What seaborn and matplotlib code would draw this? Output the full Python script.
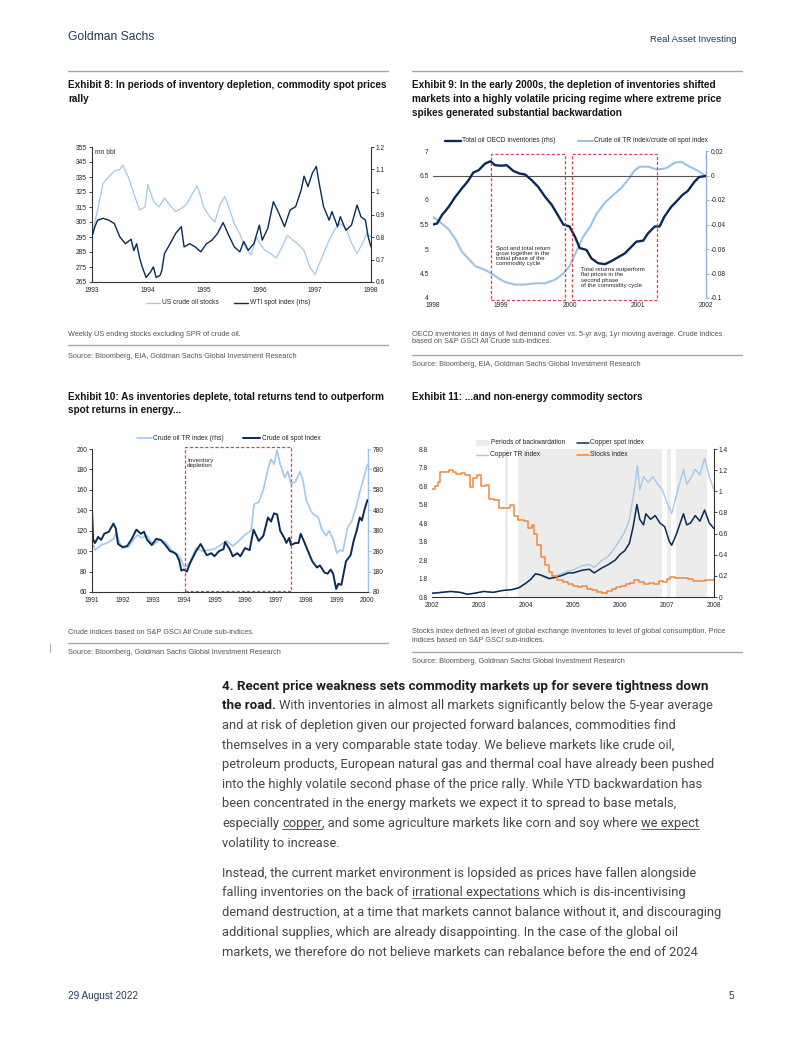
import matplotlib
matplotlib.use("Agg")
import matplotlib.pyplot as plt
import seaborn as sns
from matplotlib.lines import Line2D
from matplotlib.patches import Rectangle

sns.set_style("white")
NARROW = ['Liberation Sans Narrow', 'Liberation Sans', 'DejaVu Sans']
ARIAL = ['Liberation Sans', 'DejaVu Sans']
BODY = ['Roboto', 'DejaVu Sans']
plt.rcParams['font.family'] = ARIAL

NAVY = '#0b2a52'
LIGHT = '#a3c8ea'
ORANGE = '#f0883a'
RED = '#d9434a'
SHADE = '#ececec'
TXT = '#262626'

# ---- Exhibit 8 : US crude oil stocks (mn bbl) vs WTI spot index (rhs)
ex8_stock_yr = [1993.0, 1993.05, 1993.1, 1993.15, 1993.2, 1993.3, 1993.4, 1993.5, 1993.55, 1993.65,
                1993.75, 1993.85, 1993.95, 1994.0, 1994.1, 1994.2, 1994.3, 1994.4, 1994.5, 1994.6,
                1994.7, 1994.8, 1994.88, 1994.95, 1995.0, 1995.1, 1995.2, 1995.3, 1995.38, 1995.45,
                1995.55, 1995.65, 1995.75, 1995.85, 1995.95, 1996.0, 1996.1, 1996.2, 1996.3, 1996.4,
                1996.5, 1996.6, 1996.7, 1996.8, 1996.9, 1997.0, 1997.05, 1997.15, 1997.25, 1997.35,
                1997.45, 1997.55, 1997.65, 1997.75, 1997.85, 1997.92, 1998.0]
ex8_stocks = [295, 305, 313, 322, 331, 335, 339, 340, 343, 335,
              324, 313, 315, 330, 319, 315, 321, 316, 312, 314,
              317, 324, 329, 322, 315, 309, 305, 317, 322, 315,
              304, 297, 288, 283, 295, 291, 286, 284, 281, 288,
              296, 293, 290, 286, 275, 270, 275, 284, 293, 300,
              304, 301, 291, 284, 291, 297, 295]
ex8_wti_yr = [1993.0, 1993.05, 1993.1, 1993.2, 1993.3, 1993.4, 1993.5, 1993.6, 1993.7, 1993.75,
              1993.8, 1993.85, 1993.9, 1993.97, 1994.05, 1994.1, 1994.15, 1994.22, 1994.25, 1994.3,
              1994.4, 1994.5, 1994.6, 1994.65, 1994.75, 1994.85, 1994.95, 1995.05, 1995.15, 1995.25,
              1995.35, 1995.45, 1995.55, 1995.65, 1995.72, 1995.8, 1995.9, 1996.0, 1996.05, 1996.15,
              1996.25, 1996.35, 1996.45, 1996.55, 1996.65, 1996.75, 1996.8, 1996.87, 1996.95, 1997.02,
              1997.07, 1997.15, 1997.25, 1997.3, 1997.4, 1997.45, 1997.55, 1997.65, 1997.75, 1997.82,
              1997.9, 1997.95, 1998.0]
ex8_wti = [0.80, 0.845, 0.875, 0.883, 0.875, 0.86, 0.80, 0.77, 0.79, 0.74,
           0.77, 0.71, 0.667, 0.62, 0.645, 0.667, 0.62, 0.63, 0.65, 0.727,
           0.77, 0.816, 0.846, 0.756, 0.77, 0.756, 0.734, 0.77, 0.786, 0.816,
           0.864, 0.808, 0.756, 0.734, 0.78, 0.741, 0.77, 0.853, 0.786, 0.838,
           0.957, 0.905, 0.846, 0.92, 0.935, 1.01, 1.07, 1.024, 1.084, 1.114,
           1.04, 0.935, 0.875, 0.913, 0.846, 0.89, 0.83, 0.853, 0.942, 0.89,
           0.875, 0.80, 0.756]

# ---- Exhibit 9 : OECD inventories vs TR/spot ratio
ex9_inv_yr = [1998.0, 1998.06, 1998.13, 1998.23, 1998.33, 1998.42, 1998.52, 1998.59, 1998.67, 1998.76,
              1998.84, 1998.91, 1999.01, 1999.08, 1999.18, 1999.27, 1999.35, 1999.45, 1999.54, 1999.64,
              1999.74, 1999.83, 1999.91, 2000.0, 2000.08, 2000.15, 2000.25, 2000.32, 2000.42, 2000.52,
              2000.61, 2000.71, 2000.81, 2000.91, 2000.98, 2001.08, 2001.15, 2001.25, 2001.32, 2001.39,
              2001.49, 2001.56, 2001.66, 2001.73, 2001.83, 2001.90, 2002.0]
ex9_inv = [5.50, 5.52, 5.69, 5.86, 6.07, 6.23, 6.40, 6.56, 6.61, 6.74,
           6.79, 6.71, 6.70, 6.71, 6.59, 6.54, 6.52, 6.40, 6.27, 6.07,
           5.90, 5.69, 5.50, 5.46, 5.25, 5.02, 4.98, 4.81, 4.71, 4.69,
           4.75, 4.83, 4.91, 5.05, 5.15, 5.17, 5.32, 5.46, 5.46, 5.66,
           5.86, 5.96, 6.11, 6.18, 6.37, 6.47, 6.49]
ex9_ratio_yr = [1998.0, 1998.08, 1998.23, 1998.33, 1998.42, 1998.52, 1998.62, 1998.76, 1998.86, 1998.96,
                1999.06, 1999.20, 1999.35, 1999.49, 1999.64, 1999.79, 1999.91, 2000.0, 2000.10, 2000.20,
                2000.30, 2000.39, 2000.52, 2000.64, 2000.76, 2000.88, 2000.95, 2001.03, 2001.15, 2001.29,
                2001.42, 2001.54, 2001.64, 2001.73, 2001.85, 2002.0]
ex9_ratio = [-0.034, -0.037, -0.044, -0.052, -0.062, -0.068, -0.074, -0.077, -0.080, -0.084,
             -0.087, -0.089, -0.089, -0.088, -0.088, -0.085, -0.080, -0.074, -0.062, -0.050,
             -0.042, -0.032, -0.022, -0.016, -0.010, -0.002, 0.004, 0.0072, 0.0072, 0.0048,
             0.006, 0.0104, 0.0112, 0.008, 0.0048, -0.0004]
ex9_phase_start = [1998.85, 2000.03]
ex9_phase_end = [1999.93, 2001.28]

# ---- Exhibit 10 : crude oil spot index vs TR index (rhs)
ex10_spot_yr = [1991.0, 1991.04, 1991.1, 1991.2, 1991.3, 1991.4, 1991.55, 1991.7, 1991.78, 1991.85,
                1992.0, 1992.15, 1992.3, 1992.45, 1992.6, 1992.7, 1992.8, 1992.95, 1993.1, 1993.25,
                1993.4, 1993.55, 1993.65, 1993.75, 1993.85, 1993.92, 1994.0, 1994.1, 1994.2, 1994.4,
                1994.55, 1994.75, 1994.9, 1995.0, 1995.15, 1995.3, 1995.35, 1995.5, 1995.6, 1995.75,
                1995.85, 1996.0, 1996.15, 1996.28, 1996.45, 1996.6, 1996.75, 1996.85, 1996.95, 1997.05,
                1997.15, 1997.3, 1997.35, 1997.45, 1997.5, 1997.65, 1997.75, 1997.82, 1997.95, 1998.1,
                1998.2, 1998.35, 1998.45, 1998.6, 1998.7, 1998.8, 1998.88, 1998.98, 1999.05, 1999.15,
                1999.3, 1999.45, 1999.55, 1999.65, 1999.75, 1999.82, 1999.9, 2000.0]
ex10_spot = [140, 111, 108, 114, 111, 117, 119, 127, 122, 107,
             104, 105, 112, 121, 117, 119, 111, 106, 112, 111,
             106, 100, 99, 97, 91, 81, 82, 80, 88, 100,
             107, 96, 98, 95, 100, 102, 109, 102, 95, 98,
             95, 103, 101, 121, 110, 115, 133, 129, 137, 136,
             120, 112, 108, 113, 106, 108, 108, 117, 108, 97,
             90, 84, 86, 79, 78, 82, 78, 63, 68, 67,
             90, 96, 110, 120, 133, 130, 140, 150]
ex10_tr_yr = [1991.0, 1991.1, 1991.3, 1991.5, 1991.7, 1991.8, 1991.9, 1992.0, 1992.2, 1992.4,
              1992.5, 1992.6, 1992.8, 1993.0, 1993.2, 1993.4, 1993.6, 1993.8, 1993.9, 1994.0,
              1994.1, 1994.2, 1994.4, 1994.6, 1994.8, 1995.0, 1995.2, 1995.4, 1995.6, 1995.8,
              1996.0, 1996.2, 1996.3, 1996.45, 1996.6, 1996.75, 1996.85, 1996.95, 1997.05, 1997.15,
              1997.3, 1997.4, 1997.5, 1997.65, 1997.8, 1997.9, 1998.0, 1998.2, 1998.4, 1998.5,
              1998.65, 1998.75, 1998.9, 1999.0, 1999.1, 1999.2, 1999.35, 1999.5, 1999.65, 1999.75,
              1999.85, 2000.0]
ex10_tr = [335, 285, 310, 320, 340, 370, 320, 295, 300, 345,
           360, 345, 355, 310, 335, 325, 285, 265, 245, 205,
           205, 230, 295, 280, 285, 290, 310, 330, 305, 330,
           360, 380, 510, 520, 580, 680, 730, 705, 775, 705,
           640, 670, 610, 620, 670, 620, 530, 465, 445, 390,
           355, 380, 330, 270, 285, 280, 395, 430, 505, 570,
           620, 705]
ex10_depl = (1994.05, 1997.5)

# ---- Exhibit 11 : copper spot / TR index vs stocks index (rhs)
ex11_spot_yr = [2002.0, 2002.2, 2002.4, 2002.6, 2002.75, 2002.9, 2003.1, 2003.3, 2003.5, 2003.7,
                2003.85, 2004.0, 2004.1, 2004.2, 2004.3, 2004.4, 2004.5, 2004.6, 2004.75, 2004.9,
                2005.0, 2005.2, 2005.35, 2005.45, 2005.6, 2005.75, 2005.9, 2006.0, 2006.1, 2006.2,
                2006.28, 2006.36, 2006.42, 2006.5, 2006.55, 2006.65, 2006.75, 2006.85, 2006.95, 2007.05,
                2007.1, 2007.2, 2007.35, 2007.42, 2007.5, 2007.6, 2007.7, 2007.8, 2007.9, 2008.0]
ex11_spot = [1.0, 1.05, 1.1, 1.05, 0.95, 1.0, 1.1, 1.05, 1.15, 1.2,
             1.3, 1.55, 1.75, 2.05, 2.0, 1.9, 1.8, 1.85, 1.95, 2.1,
             2.1, 2.25, 2.3, 2.1, 2.35, 2.55, 2.8, 3.1, 3.3, 3.7,
             4.6, 5.8, 5.0, 4.7, 5.3, 5.0, 5.2, 4.8, 4.6, 3.8,
             3.6, 4.2, 5.3, 4.7, 4.8, 5.2, 4.9, 5.5, 4.8, 4.5]
ex11_tr_yr = [2002.0, 2002.2, 2002.4, 2002.6, 2002.75, 2002.9, 2003.1, 2003.3, 2003.5, 2003.7,
              2003.85, 2004.0, 2004.1, 2004.2, 2004.3, 2004.4, 2004.5, 2004.6, 2004.75, 2004.9,
              2005.0, 2005.2, 2005.35, 2005.45, 2005.6, 2005.75, 2005.9, 2006.0, 2006.1, 2006.2,
              2006.3, 2006.37, 2006.42, 2006.5, 2006.6, 2006.7, 2006.8, 2006.9, 2007.0, 2007.1,
              2007.2, 2007.35, 2007.42, 2007.5, 2007.6, 2007.7, 2007.8, 2007.9, 2008.0]
ex11_tr = [1.0, 1.05, 1.1, 1.05, 0.95, 1.0, 1.1, 1.05, 1.15, 1.2,
           1.3, 1.55, 1.75, 2.05, 2.0, 1.85, 1.75, 1.9, 2.05, 2.2,
           2.25, 2.5, 2.55, 2.4, 2.75, 3.0, 3.5, 3.9, 4.3, 5.0,
           6.5, 7.9, 6.6, 7.3, 7.0, 7.3, 6.9, 6.6, 5.9, 5.3,
           6.3, 7.7, 6.9, 7.2, 7.7, 7.4, 8.3, 7.3, 6.6]
ex11_stock_yr = [2002.00, 2002.06, 2002.12, 2002.18, 2002.28, 2002.36, 2002.44, 2002.52, 2002.62, 2002.70,
                 2002.80, 2002.88, 2002.96, 2003.04, 2003.14, 2003.22, 2003.32, 2003.42, 2003.58, 2003.66,
                 2003.74, 2003.84, 2003.96, 2004.04, 2004.12, 2004.18, 2004.24, 2004.32, 2004.40, 2004.48,
                 2004.56, 2004.66, 2004.78, 2004.90, 2005.00, 2005.10, 2005.20, 2005.30, 2005.40, 2005.50,
                 2005.62, 2005.72, 2005.82, 2005.92, 2006.02, 2006.12, 2006.22, 2006.30, 2006.40, 2006.50,
                 2006.62, 2006.72, 2006.82, 2006.92, 2007.00, 2007.06, 2007.16, 2007.30, 2007.44, 2007.56,
                 2007.70, 2007.80, 2007.90, 2008.00]
ex11_stocks = [1.02, 1.05, 1.09, 1.18, 1.18, 1.20, 1.18, 1.16, 1.17, 1.15,
               1.04, 1.13, 1.15, 1.05, 1.06, 0.93, 0.92, 0.84, 0.84, 0.87,
               0.77, 0.73, 0.72, 0.65, 0.68, 0.60, 0.49, 0.38, 0.30, 0.24,
               0.20, 0.16, 0.14, 0.12, 0.10, 0.09, 0.10, 0.08, 0.07, 0.05,
               0.04, 0.06, 0.08, 0.09, 0.10, 0.12, 0.13, 0.16, 0.14, 0.12,
               0.13, 0.12, 0.15, 0.14, 0.17, 0.19, 0.18, 0.18, 0.17, 0.15,
               0.15, 0.16, 0.16, 0.17]
ex11_back_start = [2003.56, 2003.84, 2007.01, 2007.19]
ex11_back_end = [2003.61, 2006.89, 2007.08, 2007.85]

# ---- page text
titles = {
    8: ["Exhibit 8: In periods of inventory depletion, commodity spot prices", "rally"],
    9: ["Exhibit 9: In the early 2000s, the depletion of inventories shifted",
        "markets into a highly volatile pricing regime where extreme price",
        "spikes generated substantial backwardation"],
    10: ["Exhibit 10: As inventories deplete, total returns tend to outperform",
         "spot returns in energy..."],
    11: ["Exhibit 11: ...and non-energy commodity sectors"],
}
para1 = [
    [("4. Recent price weakness sets commodity markets up for severe tightness down", 'b')],
    [("the road.", 'b'), (" With inventories in almost all markets significantly below the 5-year average", 'n')],
    [("and at risk of depletion given our projected forward balances, commodities find", 'n')],
    [("themselves in a very comparable state today. We believe markets like crude oil,", 'n')],
    [("petroleum products, European natural gas and thermal coal have already been pushed", 'n')],
    [("into the highly volatile second phase of the price rally. While YTD backwardation has", 'n')],
    [("been concentrated in the energy markets we expect it to spread to base metals,", 'n')],
    [("especially ", 'n'), ("copper", 'u'), (", and some agriculture markets like corn and soy where ", 'n'),
     ("we expect", 'u')],
    [("volatility to increase.", 'n')],
]
para2 = [
    [("Instead, the current market environment is lopsided as prices have fallen alongside", 'n')],
    [("falling inventories on the back of ", 'n'), ("irrational expectations", 'u'),
     (" which is dis-incentivising", 'n')],
    [("demand destruction, at a time that markets cannot balance without it, and discouraging", 'n')],
    [("additional supplies, which are already disappointing. In the case of the global oil", 'n')],
    [("markets, we therefore do not believe markets can rebalance before the end of 2024", 'n')],
]

W, H = 802, 1037
fig = plt.figure(figsize=(W / 100, H / 100), dpi=100)
fig.patch.set_facecolor('white')


def fx(x):
    return x / W


def fy(y):
    return 1 - y / H


def axes_px(x0, y0, x1, y1):
    return fig.add_axes([fx(x0), fy(y1), (x1 - x0) / W, (y1 - y0) / H])


def hline(x0, x1, y, color='#a6a6a6', lw=1.0):
    fig.add_artist(Line2D([fx(x0), fx(x1)], [fy(y), fy(y)], color=color, lw=lw,
                          transform=fig.transFigure))


def ftext(x, y, s, **kw):
    return fig.text(fx(x), fy(y), s, **kw)


def leg_line(x0, x1, y, color, label, lw=1.2):
    fig.add_artist(Line2D([fx(x0), fx(x1)], [fy(y), fy(y)], color=color, lw=lw,
                          transform=fig.transFigure))
    ftext(x1 + 1.5, y, label, fontsize=4.8, va='center', color=TXT, family=ARIAL)


def tick_style(ax, **kw):
    ax.tick_params(labelsize=4.8, labelcolor=TXT, width=0.6, length=2, pad=1.5, **kw)


def title_block(x, ys, lines):
    for yy, s in zip(ys, lines):
        ftext(x, yy, s, fontsize=7.2, fontweight='bold', family=NARROW, color='#141414', va='center')


def small(x, y, s):
    ftext(x, y, s, fontsize=5.3, family=NARROW, color='#555555', va='center')


# header / footer
ftext(68, 37, "Goldman Sachs", fontsize=8.7, family=NARROW, color='#24395a', va='center')
ftext(737, 39, "Real Asset Investing", fontsize=6.8, family=NARROW, color='#24395a', va='center', ha='right')
ftext(68, 996, "29 August 2022", fontsize=7.2, family=NARROW, color='#24395a', va='center')
ftext(734, 996, "5", fontsize=7.2, family=NARROW, color='#24395a', va='center', ha='right')

hline(68, 388, 70.5)
hline(412, 742, 70.5)

# ============ Exhibit 8
title_block(68, [85, 99.3], titles[8])
ax8 = axes_px(92, 147, 371, 282)
sns.lineplot(x=ex8_stock_yr, y=ex8_stocks, ax=ax8, color=LIGHT, linewidth=0.9)
ax8b = ax8.twinx()
sns.lineplot(x=ex8_wti_yr, y=ex8_wti, ax=ax8b, color=NAVY, linewidth=1.0)
ax8.set_xlim(1993, 1998)
ax8.set_ylim(265, 355)
ax8.set_yticks(range(265, 356, 10))
ax8.set_xticks(range(1993, 1999))
ax8b.set_ylim(0.6, 1.2)
ax8b.set_yticks([0.6, 0.7, 0.8, 0.9, 1.0, 1.1, 1.2])
ax8b.set_yticklabels(['0.6', '0.7', '0.8', '0.9', '1', '1.1', '1.2'])
for a in (ax8, ax8b):
    a.set_xlabel('')
    a.set_ylabel('')
    a.spines['top'].set_visible(False)
    tick_style(a)
ax8.spines['right'].set_visible(False)
for s in ('left', 'bottom'):
    ax8.spines[s].set_color('#333333')
    ax8.spines[s].set_linewidth(0.8)
ax8b.spines['right'].set_color('#333333')
ax8b.spines['right'].set_linewidth(0.8)
ax8b.spines['left'].set_visible(False)
ax8b.spines['bottom'].set_visible(False)
ax8.text(0.012, 0.985, "mn bbl", transform=ax8.transAxes, fontsize=4.8, color=TXT, va='top')
leg_line(146, 160, 302.7, LIGHT, "US crude oil stocks", lw=0.9)
leg_line(234, 248, 302.7, NAVY, "WTI spot index (rhs)", lw=1.0)
small(68, 335, "Weekly US ending stocks excluding SPR of crude oil.")
hline(68, 388, 345.5)
small(68, 356, "Source: Bloomberg, EIA, Goldman Sachs Global Investment Research")

# ============ Exhibit 9
title_block(412, [85, 99.3, 113], titles[9])
ax9 = axes_px(433, 151, 706, 298)
ax9b = ax9.twinx()
sns.lineplot(x=ex9_ratio_yr, y=ex9_ratio, ax=ax9b, color='#9cc3e6', linewidth=1.5)
sns.lineplot(x=ex9_inv_yr, y=ex9_inv, ax=ax9, color=NAVY, linewidth=1.7)
ax9.set_zorder(ax9b.get_zorder() + 1)
ax9.patch.set_visible(False)
ax9.axhline(6.5, color='#555555', lw=0.8, zorder=1)
ax9.set_xlim(1998, 2002)
ax9.set_ylim(4, 7)
ax9.set_xticks(range(1998, 2003))
ax9.set_yticks([4, 4.5, 5, 5.5, 6, 6.5, 7])
ax9.set_yticklabels(['4', '4.5', '5', '5.5', '6', '6.5', '7'])
ax9b.set_ylim(-0.1, 0.02)
ax9b.set_yticks([-0.1, -0.08, -0.06, -0.04, -0.02, 0, 0.02])
ax9b.set_yticklabels(['-0.1', '-0.08', '-0.06', '-0.04', '-0.02', '0', '0.02'])
for a in (ax9, ax9b):
    a.set_xlabel('')
    a.set_ylabel('')
    for s in ('top', 'left', 'bottom'):
        a.spines[s].set_visible(False)
    tick_style(a)
ax9.spines['right'].set_visible(False)
ax9.tick_params(axis='both', length=0, pad=3)
ax9b.spines['right'].set_color('#8aaed3')
ax9b.spines['right'].set_linewidth(0.9)
ax9b.tick_params(axis='y', colors='#8aaed3', labelcolor=TXT)
for x0, x1 in zip(ex9_phase_start, ex9_phase_end):
    ax9.add_patch(Rectangle((x0, 3.96), x1 - x0, 6.94 - 3.96, fill=False, ec=RED, lw=0.9,
                            ls=(0, (2.5, 1.6)), clip_on=False, zorder=5))
ax9.text(1998.92, 5.07, "Spot and total return\ngrow together in the\ninitial phase of the\ncommodity cycle",
         fontsize=4.3, color=TXT, va='top', linespacing=1.05)
ax9.text(2000.17, 4.63, "Total returns outperform\nflat prices in the\nsecond phase\nof the commodity cycle",
         fontsize=4.3, color=TXT, va='top', linespacing=1.05)
leg_line(445, 461, 141, NAVY, "Total oil OECD inventories (rhs)", lw=1.7)
leg_line(578, 593, 141, '#9cc3e6', "Crude oil TR index/crude oil spot index", lw=1.5)
small(412, 334.3, "OECD inventories in days of fwd demand cover vs. 5-yr avg, 1yr moving average. Crude indices")
small(412, 341.7, "based on S&P GSCI All Crude sub-indices.")
hline(412, 742, 355)
small(412, 364, "Source: Bloomberg, EIA, Goldman Sachs Global Investment Research")

# ============ Exhibit 10
title_block(68, [396.7, 410], titles[10])
ax10 = axes_px(92, 449, 368, 592)
ax10b = ax10.twinx()
sns.lineplot(x=ex10_tr_yr, y=ex10_tr, ax=ax10b, color=LIGHT, linewidth=1.2)
sns.lineplot(x=ex10_spot_yr, y=ex10_spot, ax=ax10, color=NAVY, linewidth=1.4)
ax10.set_zorder(ax10b.get_zorder() + 1)
ax10.patch.set_visible(False)
ax10.set_xlim(1991, 2000.02)
ax10.set_ylim(60, 200)
ax10.set_yticks(range(60, 201, 20))
ax10.set_xticks(range(1991, 2001))
ax10b.set_ylim(80, 780)
ax10b.set_yticks(range(80, 781, 100))
for a in (ax10, ax10b):
    a.set_xlabel('')
    a.set_ylabel('')
    a.spines['top'].set_visible(False)
    tick_style(a)
ax10.spines['right'].set_visible(False)
for s in ('left', 'bottom'):
    ax10.spines[s].set_color('#333333')
    ax10.spines[s].set_linewidth(0.8)
ax10b.spines['left'].set_visible(False)
ax10b.spines['bottom'].set_visible(False)
ax10b.spines['right'].set_color('#9cc3e6')
ax10b.spines['right'].set_linewidth(1.0)
ax10b.tick_params(axis='y', colors='#9cc3e6', labelcolor=TXT)
ax10.add_patch(Rectangle((ex10_depl[0], 60.5), ex10_depl[1] - ex10_depl[0], 202 - 60.5, fill=False,
                         ec=RED, lw=0.9, ls=(0, (2.5, 1.6)), clip_on=False, zorder=5))
ax10.text(ex10_depl[0] + 0.06, 191, "Inventory\ndepletion", fontsize=4.6, color=TXT, va='top',
          linespacing=1.05)
leg_line(136.7, 151.7, 438.3, LIGHT, "Crude oil TR index (rhs)", lw=1.2)
leg_line(243, 260, 438.3, NAVY, "Crude oil spot index", lw=1.4)
small(68, 632.7, "Crude indices based on S&P GSCI All Crude sub-indices.")
hline(68, 388, 643.3)
small(68, 652, "Source: Bloomberg, Goldman Sachs Global Investment Research")
fig.add_artist(Line2D([fx(50), fx(50)], [fy(644), fy(652)], color='#999999', lw=0.6,
                      transform=fig.transFigure))

# ============ Exhibit 11
title_block(412, [396.7], titles[11])
ax11 = axes_px(432, 449, 714, 597)
for x0, x1 in zip(ex11_back_start, ex11_back_end):
    ax11.axvspan(x0, x1, color=SHADE, lw=0, zorder=0)
sns.lineplot(x=ex11_tr_yr, y=ex11_tr, ax=ax11, color=LIGHT, linewidth=1.0)
sns.lineplot(x=ex11_spot_yr, y=ex11_spot, ax=ax11, color=NAVY, linewidth=1.1)
ax11b = ax11.twinx()
sns.lineplot(x=ex11_stock_yr, y=ex11_stocks, ax=ax11b, color=ORANGE, linewidth=1.1,
             drawstyle='steps-post')
ax11.set_xlim(2002, 2008)
ax11.set_ylim(0.8, 8.8)
ax11.set_xticks(range(2002, 2009))
ax11.set_yticks([0.8, 1.8, 2.8, 3.8, 4.8, 5.8, 6.8, 7.8, 8.8])
ax11.set_yticklabels(['0.8', '1.8', '2.8', '3.8', '4.8', '5.8', '6.8', '7.8', '8.8'])
ax11b.set_ylim(0, 1.4)
ax11b.set_yticks([0, 0.2, 0.4, 0.6, 0.8, 1.0, 1.2, 1.4])
ax11b.set_yticklabels(['0', '0.2', '0.4', '0.6', '0.8', '1', '1.2', '1.4'])
for a in (ax11, ax11b):
    a.set_xlabel('')
    a.set_ylabel('')
    a.spines['top'].set_visible(False)
    a.spines['left'].set_visible(False)
    tick_style(a)
ax11.spines['right'].set_visible(False)
ax11.spines['bottom'].set_color('#333333')
ax11.spines['bottom'].set_linewidth(0.8)
ax11.tick_params(axis='y', length=0, pad=3)
ax11b.spines['bottom'].set_visible(False)
ax11b.spines['right'].set_color('#333333')
ax11b.spines['right'].set_linewidth(0.8)
fig.add_artist(Rectangle((fx(475.7), fy(445.2)), (488.3 - 475.7) / W, 5 / H, color=SHADE,
                         transform=fig.transFigure))
ftext(491, 442.7, "Periods of backwardation", fontsize=4.8, va='center', color=TXT, family=ARIAL)
leg_line(576.7, 589, 442.7, NAVY, "Copper spot index", lw=1.1)
leg_line(475.7, 488.3, 455, LIGHT, "Copper TR index", lw=1.0)
leg_line(576.7, 589, 455, ORANGE, "Stocks index", lw=1.1)
small(412, 631.7, "Stocks index defined as level of global exchange inventories to level of global consumption. Price")
small(412, 640, "indices based on S&P GSCI sub-indices.")
hline(412, 742, 651.7)
small(412, 661.7, "Source: Bloomberg, Goldman Sachs Global Investment Research")

# ============ body text
renderer = fig.canvas.get_renderer()
SIZE_REG = 9.3
SIZE_BOLD = 9.6
SPACE = 3.2


def body_line(x0, base, segs):
    cur = x0
    for text, style in segs:
        bold = style == 'b'
        lead = len(text) - len(text.lstrip(' '))
        trail = len(text) - len(text.rstrip(' '))
        cur += lead * SPACE
        t = ftext(cur, base, text.strip(), fontsize=SIZE_BOLD if bold else SIZE_REG, family=BODY,
                  fontweight='bold' if bold else 'normal',
                  color='#1e1e1e' if bold else '#474747', va='baseline')
        w = t.get_window_extent(renderer).width
        if style == 'u':
            hline(cur, cur + w, base + 2.0, color='#474747', lw=0.6)
        cur += w + trail * SPACE


for i, segs in enumerate(para1):
    body_line(222, 689.7 + 19.6 * i, segs)
for i, segs in enumerate(para2):
    body_line(222, 876.7 + 19.75 * i, segs)

fig.savefig("out.png", dpi=100, facecolor='white')
